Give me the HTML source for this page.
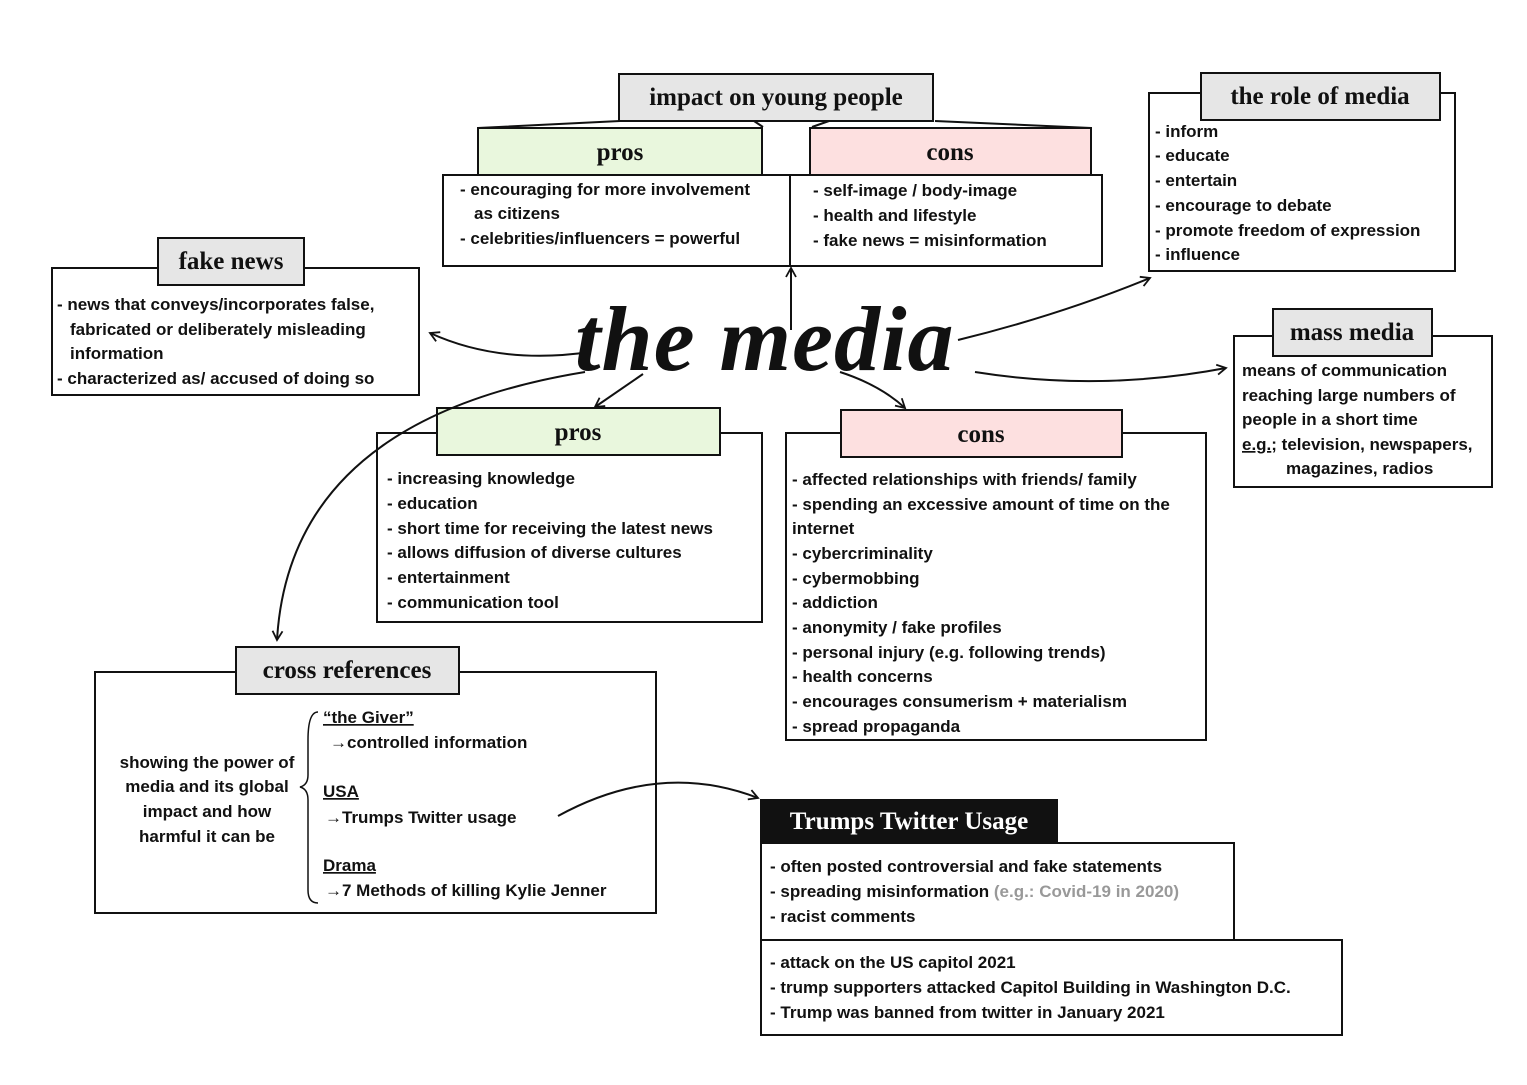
<!DOCTYPE html>
<html><head><meta charset="utf-8"><style>
body{margin:0;background:#fff}
svg text{font-family:"Liberation Sans",sans-serif;font-weight:bold;font-size:17px;fill:#111}
.h{font-family:"Liberation Serif",serif;font-size:25px;text-anchor:middle}
</style></head><body>
<svg width="1527" height="1080" viewBox="0 0 1527 1080" xmlns="http://www.w3.org/2000/svg">
<defs><marker id="a" markerWidth="12" markerHeight="12" refX="10" refY="6" orient="auto" markerUnits="userSpaceOnUse"><path d="M1,1 L10,6 L1,11" fill="none" stroke="#111" stroke-width="1.8"/></marker></defs>
<g fill="none" stroke="#111" stroke-width="2">
<rect x="443" y="175" width="659" height="91"/><line x1="790" y1="175" x2="790" y2="266"/>
<path d="M478,128 L620,121 M935,121 L1091,128 M754,121 L763,127 M829,121 L812,127"/>
<rect x="478" y="128" width="284" height="47" fill="#e9f7dd"/>
<rect x="810" y="128" width="281" height="47" fill="#fde0e0"/>
<rect x="619" y="74" width="314" height="47" fill="#e6e6e6"/>
<rect x="1149" y="93" width="306" height="178"/>
<rect x="1201" y="73" width="239" height="47" fill="#e6e6e6"/>
<rect x="52" y="268" width="367" height="127"/>
<rect x="158" y="238" width="146" height="47" fill="#e6e6e6"/>
<rect x="1234" y="336" width="258" height="151"/>
<rect x="1273" y="309" width="159" height="47" fill="#e6e6e6"/>
<rect x="377" y="433" width="385" height="189"/>
<rect x="437" y="408" width="283" height="47" fill="#e9f7dd"/>
<rect x="786" y="433" width="420" height="307"/>
<rect x="841" y="410" width="281" height="47" fill="#fde0e0"/>
<rect x="95" y="672" width="561" height="241"/>
<rect x="236" y="647" width="223" height="47" fill="#e6e6e6"/>
<rect x="761" y="843" width="473" height="97"/>
<rect x="761" y="940" width="581" height="95"/>
<rect x="761" y="800" width="296" height="43" fill="#111"/>
<line x1="791" y1="330" x2="791" y2="268" marker-end="url(#a)"/>
<path d="M590,352 Q500,365 430,333" marker-end="url(#a)"/>
<path d="M958,340 Q1060,315 1150,278" marker-end="url(#a)"/>
<path d="M975,372 Q1100,392 1226,368" marker-end="url(#a)"/>
<path d="M643,374 L595,407" marker-end="url(#a)"/>
<path d="M840,372 Q880,385 905,408" marker-end="url(#a)"/>
<path d="M585,372 Q290,420 277,640" marker-end="url(#a)"/>
<path d="M558,816 Q660,760 758,798" marker-end="url(#a)"/>
<path d="M318,712 Q308,712 308,740 L308,775 Q308,785 300,787 Q308,789 308,800 L308,890 Q308,903 318,903" stroke-width="1.5"/>
</g>
<text x="776" y="105" class="h">impact on young people</text>
<text x="620" y="160" class="h">pros</text>
<text x="950" y="160" class="h">cons</text>
<text x="1320" y="104" class="h">the role of media</text>
<text x="231" y="269" class="h">fake news</text>
<text x="1352" y="340" class="h">mass media</text>
<text x="578" y="440" class="h">pros</text>
<text x="981" y="442" class="h">cons</text>
<text x="347" y="678" class="h">cross references</text>
<text x="909" y="829" class="h" style="fill:#fff">Trumps Twitter Usage</text>
<text x="575" y="370" style="font-family:'Liberation Serif',serif;font-style:italic;font-size:92px;letter-spacing:1px">the media</text>
<g>
<text x="460" y="195">- encouraging for more involvement</text>
<text x="474" y="219">as citizens</text>
<text x="460" y="244">- celebrities/influencers = powerful</text>
<text x="813" y="196">- self-image / body-image</text>
<text x="813" y="221">- health and lifestyle</text>
<text x="813" y="246">- fake news = misinformation</text>
<text x="1155" y="137">- inform</text>
<text x="1155" y="161">- educate</text>
<text x="1155" y="186">- entertain</text>
<text x="1155" y="211">- encourage to debate</text>
<text x="1155" y="236">- promote freedom of expression</text>
<text x="1155" y="260">- influence</text>
<text x="57" y="310">- news that conveys/incorporates false,</text>
<text x="70" y="335">fabricated or deliberately misleading</text>
<text x="70" y="359">information</text>
<text x="57" y="384">- characterized as/ accused of doing so</text>
<text x="1242" y="376">means of communication</text>
<text x="1242" y="401">reaching large numbers of</text>
<text x="1242" y="425">people in a short time</text>
<text x="1242" y="450"><tspan text-decoration="underline">e.g.</tspan>; television, newspapers,</text>
<text x="1286" y="474">magazines, radios</text>
<text x="387" y="484">- increasing knowledge</text>
<text x="387" y="509">- education</text>
<text x="387" y="534">- short time for receiving the latest news</text>
<text x="387" y="558">- allows diffusion of diverse cultures</text>
<text x="387" y="583">- entertainment</text>
<text x="387" y="608">- communication tool</text>
<text x="792" y="485">- affected relationships with friends/ family</text>
<text x="792" y="510">- spending an excessive amount of time on the</text>
<text x="792" y="534">internet</text>
<text x="792" y="559">- cybercriminality</text>
<text x="792" y="584">- cybermobbing</text>
<text x="792" y="608">- addiction</text>
<text x="792" y="633">- anonymity / fake profiles</text>
<text x="792" y="658">- personal injury (e.g. following trends)</text>
<text x="792" y="682">- health concerns</text>
<text x="792" y="707">- encourages consumerism + materialism</text>
<text x="792" y="732">- spread propaganda</text>
<text x="207" y="768" text-anchor="middle">showing the power of</text>
<text x="207" y="792" text-anchor="middle">media and its global</text>
<text x="207" y="817" text-anchor="middle">impact and how</text>
<text x="207" y="842" text-anchor="middle">harmful it can be</text>
<text x="323" y="723" text-decoration="underline">“the Giver”</text>
<text x="330" y="748">→controlled information</text>
<text x="323" y="797" text-decoration="underline">USA</text>
<text x="325" y="823">→Trumps Twitter usage</text>
<text x="323" y="871" text-decoration="underline">Drama</text>
<text x="325" y="896">→7 Methods of killing Kylie Jenner</text>
<text x="770" y="872">- often posted controversial and fake statements</text>
<text x="770" y="897">- spreading misinformation <tspan style="fill:#999">(e.g.: Covid-19 in 2020)</tspan></text>
<text x="770" y="922">- racist comments</text>
<text x="770" y="968">- attack on the US capitol 2021</text>
<text x="770" y="993">- trump supporters attacked Capitol Building in Washington D.C.</text>
<text x="770" y="1018">- Trump was banned from twitter in January 2021</text>
</g>
</svg>
</body></html>
